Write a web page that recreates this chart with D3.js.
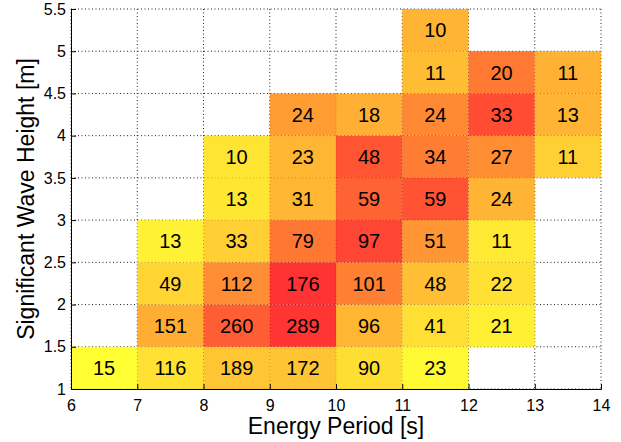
<!DOCTYPE html>
<html>
<head>
<meta charset="utf-8">
<script src="https://cdn.jsdelivr.net/npm/d3@7"></script>
<style>
  body { margin: 0; background: #fff; }
  text { font-family: "Liberation Sans", Arial, sans-serif; fill: #000; }
  .tick text { font-size: 16px; }
  .axis-label { font-size: 23px; }
  .cell-label { font-size: 20px; }
</style>
</head>
<body>
<svg width="621" height="442"></svg>
<script>
  // DATA: bin lower edges and occurrence counts (rows from Hs = 1 upwards)
  const periodBins = [6, 7, 8, 9, 10, 11, 12, 13];
  const heightBins = [1, 1.5, 2, 2.5, 3, 3.5, 4, 4.5, 5];
  const counts = [
    [15, 116, 189, 172, 90, 23, null, null],
    [null, 151, 260, 289, 96, 41, 21, null],
    [null, 49, 112, 176, 101, 48, 22, null],
    [null, 13, 33, 79, 97, 51, 11, null],
    [null, null, 13, 31, 59, 59, 24, null],
    [null, null, 10, 23, 48, 34, 27, 11],
    [null, null, null, 24, 18, 24, 33, 13],
    [null, null, null, null, null, 11, 20, 11],
    [null, null, null, null, null, 10, null, null]
  ];
  const xTicks = [6, 7, 8, 9, 10, 11, 12, 13, 14];
  const yTicks = [1, 1.5, 2, 2.5, 3, 3.5, 4, 4.5, 5, 5.5];
  const xLabel = "Energy Period [s]";
  const yLabel = "Significant Wave Height [m]";

  const svg = d3.select("svg");
  const margin = { top: 9, right: 20, bottom: 53, left: 71 };
  const width = +svg.attr("width") - margin.left - margin.right;
  const height = +svg.attr("height") - margin.top - margin.bottom;

  const xScale = d3.scaleLinear().domain([6, 14]).range([0, width]);
  const yScale = d3.scaleLinear().domain([1, 5.5]).range([height, 0]);

  // flatten to cells; colour by energy weight (count * Hs^2 * Te at bin centre)
  const cells = [];
  counts.forEach((row, i) => {
    row.forEach((c, j) => {
      if (c == null) return;
      const te = periodBins[j] + 0.5;
      const hs = heightBins[i] + 0.25;
      cells.push({ x: periodBins[j], y: heightBins[i], count: c, energy: c * hs * hs * te });
    });
  });

  const color = d3.scaleLinear()
    .domain(d3.extent(cells, d => d.energy))
    .range(["#ffff00", "#ff0000"]);

  const g = svg.append("g").attr("transform", `translate(${margin.left},${margin.top})`);

  // GRID
  g.append("g").selectAll("line").data(xTicks).join("line")
    .attr("x1", d => xScale(d)).attr("x2", d => xScale(d))
    .attr("y1", 0).attr("y2", height)
    .attr("stroke", "#222").attr("stroke-width", 1).attr("stroke-dasharray", "1,2.5");
  g.append("g").selectAll("line").data(yTicks).join("line")
    .attr("y1", d => yScale(d)).attr("y2", d => yScale(d))
    .attr("x1", 0).attr("x2", width)
    .attr("stroke", "#222").attr("stroke-width", 1).attr("stroke-dasharray", "1,2.5");

  // CELLS
  g.append("g").selectAll("rect").data(cells).join("rect")
    .attr("x", d => xScale(d.x))
    .attr("y", d => yScale(d.y + 0.5))
    .attr("width", d => xScale(d.x + 1) - xScale(d.x))
    .attr("height", d => yScale(d.y) - yScale(d.y + 0.5))
    .attr("fill", d => color(d.energy))
    .attr("fill-opacity", 0.8);

  g.append("g").selectAll("text").data(cells).join("text")
    .attr("class", "cell-label")
    .attr("x", d => xScale(d.x + 0.5))
    .attr("y", d => yScale(d.y + 0.25))
    .attr("dy", "0.36em")
    .attr("text-anchor", "middle")
    .text(d => d.count);

  // AXES
  const xAxis = d3.axisBottom(xScale).tickValues(xTicks).tickSize(-5).tickPadding(11)
    .tickFormat(d3.format("d"));
  const xAxisG = g.append("g").attr("transform", `translate(0,${height})`).call(xAxis);
  xAxisG.select(".domain").attr("stroke", "#000");
  xAxisG.selectAll(".tick line").attr("stroke", "#000");
  xAxisG.selectAll(".tick text").attr("fill", "#000");

  const yAxis = d3.axisLeft(yScale).tickValues(yTicks).tickSize(-5).tickPadding(5)
    .tickFormat(d => String(d));
  const yAxisG = g.append("g").call(yAxis);
  yAxisG.select(".domain").attr("stroke", "#000");
  yAxisG.selectAll(".tick line").attr("stroke", "#000");
  yAxisG.selectAll(".tick text").attr("fill", "#000");

  // LABELS
  svg.append("text")
    .attr("class", "axis-label")
    .attr("x", margin.left + width / 2)
    .attr("y", 434)
    .attr("text-anchor", "middle")
    .text(xLabel);

  svg.append("text")
    .attr("class", "axis-label")
    .attr("transform", `translate(34,${margin.top + height / 2}) rotate(-90)`)
    .attr("text-anchor", "middle")
    .text(yLabel);
</script>
</body>
</html>
